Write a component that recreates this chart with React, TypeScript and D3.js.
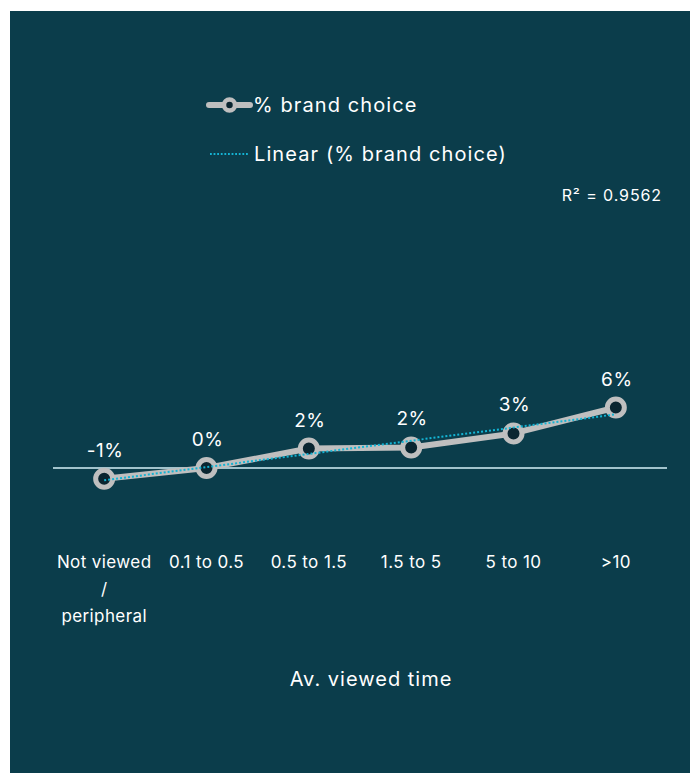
import React from "react";
import * as d3 from "d3";

const categories = ["Not viewed / peripheral", "0.1 to 0.5", "0.5 to 1.5", "1.5 to 5", "5 to 10", ">10"];
const brandChoice = [-1.0, 0.0, 1.8, 1.9, 3.2, 5.6];
const valueLabels = ["-1%", "0%", "2%", "2%", "3%", "6%"];
const seriesName = "% brand choice";
const trendName = "Linear (% brand choice)";
const r2Label = "R² = 0.9562";
const xTitle = "Av. viewed time";

const W = 690, H = 773;
const FONT = "Inter, 'Open Sans', sans-serif";
const BG = "#0b3d4b";
const GRAY = "#bfbfbf";
const DOT = "#0a2530";
const CYAN = "#14b4d4";

export default function App() {
  const x = d3.scaleBand<string>().domain(categories).range([53, 667]);
  const y = d3.scaleLinear().domain([0, 1]).range([468, 457.2]);
  const cx = (i: number) => (x(categories[i]) as number) + x.bandwidth() / 2;

  const pts: [number, number][] = brandChoice.map((v, i) => [cx(i), y(v)]);
  const line = d3.line();

  // linear regression for trendline
  const n = brandChoice.length;
  const xs = brandChoice.map((_, i) => i);
  const mx = d3.mean(xs) as number;
  const my = d3.mean(brandChoice) as number;
  let sxy = 0, sxx = 0;
  xs.forEach((xi, i) => { sxy += (xi - mx) * (brandChoice[i] - my); sxx += (xi - mx) ** 2; });
  const slope = sxy / sxx;
  const icpt = my - slope * mx;
  const trend: [number, number][] = [[cx(0), y(icpt)], [cx(n - 1), y(icpt + slope * (n - 1))]];

  return (
    <svg width={W} height={H} style={{ position: "absolute", left: 0, top: 0 }}>
      <rect x={10} y={11} width={W - 10} height={H - 11} fill={BG} />
      {/* legend */}
      <line x1={209} x2={250} y1={105} y2={105} stroke={GRAY} strokeWidth={6} strokeLinecap="round" />
      <circle cx={229.5} cy={105} r={5.5} fill={DOT} stroke={GRAY} strokeWidth={4.5} />
      <text x={253} y={112} fill="#fff" fontFamily={FONT} fontSize={20} letterSpacing={1.1}>{seriesName}</text>
      <line x1={210} x2={249} y1={154} y2={154} stroke={CYAN} strokeWidth={1.8} strokeDasharray="1.8 1.8" />
      <text x={254} y={161} fill="#fff" fontFamily={FONT} fontSize={20} letterSpacing={1.1}>{trendName}</text>
      <text x={662} y={201} fill="#fff" fontFamily={FONT} fontSize={16} letterSpacing={0.9} textAnchor="end">{r2Label}</text>

      {/* zero line */}
      <line x1={53} x2={667} y1={y(0)} y2={y(0)} stroke="#d6f1f7" strokeWidth={1.5} />

      {/* series */}
      <path d={line(pts) as string} fill="none" stroke={GRAY} strokeWidth={6} strokeLinejoin="round" />
      {pts.map((p, i) => (
        <circle key={i} cx={p[0]} cy={p[1]} r={8.5} fill={DOT} stroke={GRAY} strokeWidth={5} />
      ))}
      <path d={line(trend) as string} fill="none" stroke={CYAN} strokeWidth={2} strokeDasharray="2 2" />
      {pts.map((p, i) => (
        <text key={i} x={p[0] + 1} y={p[1] - 22} fill="#fff" fontFamily={FONT} fontSize={19} letterSpacing={0.5} textAnchor="middle">{valueLabels[i]}</text>
      ))}

      {/* category labels */}
      {categories.map((c, i) => {
        const parts = c.includes(" / ") ? [c.split(" / ")[0], "/", c.split(" / ")[1]] : [c];
        return (
          <text key={i} x={cx(i)} y={568} fill="#fff" fontFamily={FONT} fontSize={17} letterSpacing={0.4} textAnchor="middle">
            {parts.map((s, j) => (
              <tspan key={j} x={cx(i)} dy={j === 0 ? 0 : 27}>{s}</tspan>
            ))}
          </text>
        );
      })}
      <text x={371} y={686} fill="#fff" fontFamily={FONT} fontSize={20} letterSpacing={1} textAnchor="middle">{xTitle}</text>
    </svg>
  );
}
